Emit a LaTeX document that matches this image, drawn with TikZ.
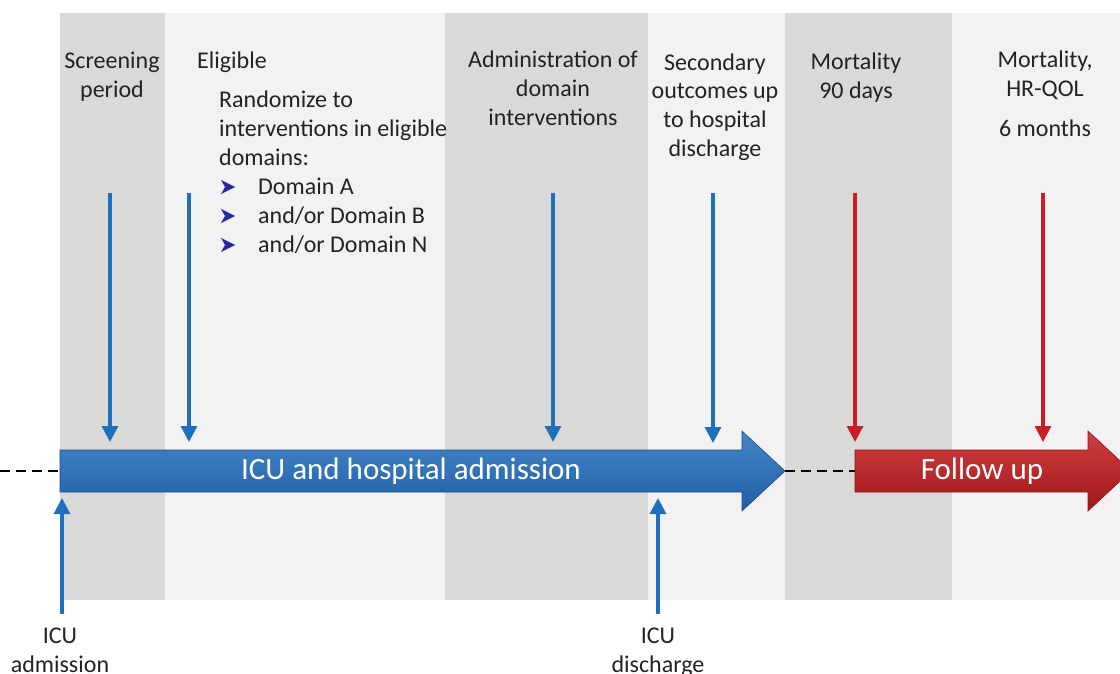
\documentclass[tikz,border=0pt]{standalone}
\usepackage{fontspec}
\setmainfont{Carlito}
\usetikzlibrary{arrows.meta}
\definecolor{gdark}{RGB}{217,217,216}
\definecolor{glight}{RGB}{242,242,242}
\definecolor{bline}{RGB}{31,112,188}
\definecolor{bbig}{RGB}{36,112,192}
\definecolor{rline}{RGB}{200,30,40}
\definecolor{rbig}{RGB}{200,28,32}
\definecolor{chev}{RGB}{40,40,160}
\definecolor{txt}{RGB}{35,35,35}
\tikzset{
  lbl/.style={font=\fontsize{24}{28.8}\selectfont, text=txt, inner sep=0pt, align=center, anchor=base},
  lbll/.style={lbl, align=left, anchor=base west},
  big/.style={font=\fontsize{31}{36}\selectfont, text=white, inner sep=0pt},
  bdown/.style={draw=bline, line width=3.2pt, -{Triangle[width=16pt,length=16pt]}},
  rdown/.style={draw=rline, line width=3.2pt, -{Triangle[width=16pt,length=16pt]}},
  dashln/.style={draw=black, line width=2pt, dash pattern=on 10pt off 6pt},
  chevshape/.style={fill=chev, draw=none}
}
\begin{document}
\begin{tikzpicture}[x=1pt,y=-1pt]
\useasboundingbox (0,0) rectangle (1120,674);
\clip (0,0) rectangle (1120,674);
\fill[white] (0,0) rectangle (1120,674);
% columns
\fill[gdark]  (60,13) rectangle (165,600);
\fill[glight] (165,13) rectangle (445,600);
\fill[gdark]  (445,13) rectangle (648,600);
\fill[glight] (648,13) rectangle (785,600);
\fill[gdark]  (785,13) rectangle (952,600);
\fill[glight] (952,13) rectangle (1120,600);

% dashed connectors
\coordinate (dl) at (0,471);
\coordinate (bs) at (60,471);
\coordinate (btip) at (785,471);
\coordinate (rs) at (855,471);
\draw[dashln] (dl) -- (bs);
\draw[dashln] (btip) -- (rs);

% big blue arrow
\shade[top color=bbig!85!white, middle color=bbig, bottom color=bbig!85!black, draw=bbig!70!black, line width=0.6pt]
  (60,450) -- (742,450) -- (742,431) -- (785,471) -- (742,511) -- (742,492) -- (60,492) -- cycle;
\node[big] (icu) at (411,471) {ICU and hospital admission};
% big red arrow
\shade[top color=rbig!85!white, middle color=rbig, bottom color=rbig!80!black, draw=rbig!70!black, line width=0.6pt]
  (855,450) -- (1088,450) -- (1088,431) -- (1131,471) -- (1088,511) -- (1088,492) -- (855,492) -- cycle;
\node[big] (fu) at (982,471) {Follow up};

% labels (anchor=base is the baseline of the last line)
\node[lbl] (scr) at (112,97.8) {Screening\\period};
\node[lbll] (eli) at (197,69) {Eligible};
\node[lbll] (rnd) at (219,165.6) {Randomize to\\interventions in eligible\\domains:};
\node[lbll] (da) at (258,194) {Domain A};
\node[lbll] (db) at (258,223) {and/or Domain B};
\node[lbll] (dn) at (258,252) {and/or Domain N};
\foreach \yy in {187,216,245}{
  \fill[chevshape] (221,\yy-7) -- (235,\yy) -- (221,\yy+7) -- (225,\yy) -- cycle;
}
\node[lbl] (adm) at (553,125.6) {Administration of\\domain\\interventions};
\node[lbl] (sec) at (715,156.4) {Secondary\\outcomes up\\to hospital\\discharge};
\node[lbl] (m90) at (856,98.8) {Mortality\\90 days};
\node[lbl] (m6) at (1045,137) {Mortality,\\HR-QOL\\[12pt]6 months};
\node[lbl] (ia) at (60,672) {ICU\\admission};
\node[lbl] (id) at (658,672) {ICU\\discharge};

% thin arrows
\coordinate (a1s) at (110,193); \coordinate (a1e) at (110,442);
\coordinate (a2s) at (189,193); \coordinate (a2e) at (189,442);
\coordinate (a3s) at (553,193); \coordinate (a3e) at (553,442);
\coordinate (a4s) at (713,193); \coordinate (a4e) at (713,443);
\coordinate (a5s) at (855,193); \coordinate (a5e) at (855,442);
\coordinate (a6s) at (1043,193); \coordinate (a6e) at (1043,442);
\draw[bdown] (a1s) -- (a1e);
\draw[bdown] (a2s) -- (a2e);
\draw[bdown] (a3s) -- (a3e);
\draw[bdown] (a4s) -- (a4e);
\draw[rdown] (a5s) -- (a5e);
\draw[rdown] (a6s) -- (a6e);
\coordinate (u1s) at (62,614); \coordinate (u1e) at (62,498);
\coordinate (u2s) at (658,614); \coordinate (u2e) at (658,498);
\draw[bdown] (u1s) -- (u1e);
\draw[bdown] (u2s) -- (u2e);
\end{tikzpicture}
\end{document}
